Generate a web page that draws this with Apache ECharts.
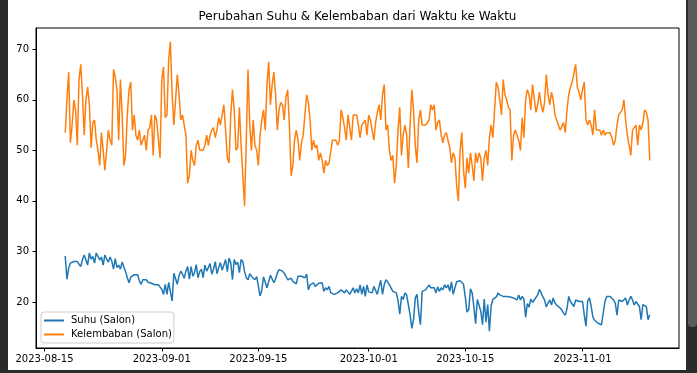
<!DOCTYPE html>
<html>
<head>
<meta charset="utf-8">
<script src="https://cdn.jsdelivr.net/npm/echarts@6/dist/echarts.min.js"></script>
<style>
  html, body { margin: 0; padding: 0; width: 697px; height: 373px; background: #2b2b2b; overflow: hidden; }
  #chart { position: absolute; left: 8px; top: 0; width: 678px; height: 370px; background: #ffffff; }
  #sb { position: absolute; left: 688px; top: 0; width: 9px; height: 327px; background: #5b5b5b; border-radius: 0 0 4px 4px; }
</style>
</head>
<body>
<div id="chart"></div>
<div id="sb"></div>
<script>
const titleText = 'Perubahan Suhu & Kelembaban dari Waktu ke Waktu';
const seriesNames = ['Suhu (Salon)', 'Kelembaban (Salon)'];
// sampling: every 6 hours starting 2023-08-18 00:00
const startDate = [2023, 7, 18];
const stepHours = 6;
const xTickDates = ['2023-08-15', '2023-09-01', '2023-09-15', '2023-10-01', '2023-10-15', '2023-11-01'];
const yTickValues = [20, 30, 40, 50, 60, 70];

const suhu = [
29.1,24.5,26.7,27.7,27.8,28,28.2,28,27.5,27,28.4,29.3,29.3,27.3,29.7,28.5,29,27.7,29.7,29.5,
28.3,28.9,27.3,29.3,28.5,27.9,28.9,28.1,26.5,28.6,26.8,27.3,26.5,27.9,27.7,26,24.8,23.8,24.9,24.9,
25.4,25.4,25.4,24.2,23.5,24.4,24.1,24.4,23.9,23.9,23.7,23.6,23.4,23.1,23.4,23.3,22.5,21.5,23.5,21.5,
23.9,22,20.2,25.7,25.5,23.5,25.2,26.1,25.5,24.7,26.1,27,24.5,27,25.1,25.8,27.4,24.8,26,26.5,
24.8,27.3,26.1,26.8,27.6,25.5,26.5,28,25.6,26.8,27.8,26.3,27.3,28.4,26,28.7,27.7,24.4,28.4,27.4,
27.9,25.8,28.4,28,26,24.8,24.4,25.6,25.1,25.1,24.4,25,23.2,21.2,22.3,25,25,22.8,22.8,25.3,
25,23.8,24.6,25.7,26.4,26.1,26.1,25.7,25.1,24.4,24.4,24.7,24.1,24.1,23.6,25.1,25.4,25.1,24.8,24.8,
25.5,22.4,23.4,23.2,23.8,23.1,23.4,23.7,23.5,23.8,22.1,22.8,22.4,23.1,21.8,21.8,21.5,21.8,21.8,22.1,
22.4,22.1,21.8,22.4,22.1,21.5,21.8,22.8,21.8,22.6,21.8,23.4,21.5,23.1,21.1,23.4,22,21.8,21.8,23.1,
22.8,21.5,23,24.3,21.5,23.4,24.4,24,23.4,23.1,22.1,22.4,21.8,20.3,17.6,21.1,20.5,21.8,21.4,21.1,
17.5,14.8,16.5,20.8,21.5,18,15.5,22.1,21.8,22.4,22.1,23.4,22.8,22.6,22.8,21.8,23,22.1,22.8,22.4,
23.4,22.8,23.4,22.1,24,21.5,22.8,24,24.1,24.2,24,23.5,21,18,18.5,22.6,21.8,19,15.7,20.5,
20.5,18.2,15.5,20.6,16,19.5,14.2,19.2,20.5,20.5,21,21.8,21.4,21.1,21.1,21,21.1,20.8,21,20.8,
20.8,21,20.4,21.4,20.4,21.1,20.6,17,19.7,19,20.6,19.9,20.4,20.4,21.4,22.5,21.8,21,20.4,19,
19.8,20.4,19.4,20.8,19.8,19.4,19.1,18.8,18.4,17.8,17.4,18.7,21.1,20.1,20.4,19.1,20.4,20.4,20.1,19.8,
20.1,17.5,15.2,20.2,20.8,19.2,17,16.4,16.1,15.8,15.5,15.5,15.5,20.1,21.1,21.1,21.1,20.8,20.4,19.8,
17.4,20.4,20.1,20.1,20.4,20.8,19.4,20.4,21.1,20.4,19.4,20.1,19.8,19.1,16.5,19.5,19.8,19.1,16.5,17.5
];

const kelembaban = [
53.5,60,65.5,51.5,55,60,58,51,64,67,61,53,60,62.5,59,50.5,55.5,56,52,50,
47,53.5,50,46,50,54,52,51,66,64.5,62,52,64,57,47,49,57,62,63.5,54,
57,53,52,54,51,52,53,50,54,54.5,57,49,57,56,56,48.5,64,66.5,56.5,57,
68,71.5,61,55,60,65,61,56,57,57,53,43.5,45,50,48,47,51,52,50,50,
50,51,53,51,53,54,54.5,52.5,54,56.5,55,57,59,54,48.5,47.5,57,62,58,50,
50.5,58.5,51,45,39,52,66,55,50,56,51,50,47,53,56,58,54,63,67.5,59,
63,65.5,61,54,58,59.5,59,56,60.5,62,55,45,47,52,54,52,48,51.5,53,53,
61,59.5,56,50,52,50.5,51,48,49.5,48,45.5,48,47,47.5,47.5,52,52,52,51,52,
58,56.5,54.5,52,57,57,52,57,57,57,55,52.5,55,55.5,56,53,57,56,54,52,
55.5,57.5,59,56,61,63,54,55,50,48,49,43.5,47,54,58.5,49,53,55,53,46.5,
55,62,58,51,47.5,56,58,55,55,55,55,56,59,58,59,54,55.5,56,53,51.5,
53,53.5,52,50.5,47.5,49.5,48.5,43,40,50,53.5,46,42.5,48.5,45.5,49.5,47,44,49.5,47.5,
49.5,48.5,44,48.5,50,47,52.5,55,52.5,58,63.5,62.5,60,57,64,61,60,58.5,58,48,
53,54,53,52,50,56.5,52.5,60,62,61,58,63,63,57.5,59,61.5,59,57.5,59.5,65,
61,59,61.5,60,57,57,55,54,54,55.5,53.5,58,61,62.5,63.5,63.5,67,62.5,61.5,60,
62,63.5,56,55,56,55,53,58,54,54,54,53,54,53,53.5,53.5,53.5,52.5,51,52,
55,57,57.5,58,60,56,53,53,49,54,54,55,51,55,54,55.5,58,57.5,56,48
];

function localTs(y, m, d, h) { return new Date(y, m, d, h || 0, 0, 0).getTime(); }
function parseDay(s) { const p = s.split('-').map(Number); return localTs(p[0], p[1] - 1, p[2]); }
const t0 = localTs(startDate[0], startDate[1], startDate[2]);
const stepMs = stepHours * 3600 * 1000;
const times = suhu.map((_, i) => t0 + i * stepMs);
const span = times[times.length - 1] - times[0];
const xMin = times[0] - span * 0.05;
const xMax = times[times.length - 1] + span * 0.05;
const xTicks = xTickDates.map(parseDay);

function fmtDate(v) {
  const d = new Date(v);
  const mm = String(d.getMonth() + 1).padStart(2, '0');
  const dd = String(d.getDate()).padStart(2, '0');
  return d.getFullYear() + '-' + mm + '-' + dd;
}

const chart = echarts.init(document.getElementById('chart'), null, { renderer: 'canvas' });
const font = 'DejaVu Sans';
chart.setOption({
  animation: false,
  backgroundColor: '#ffffff',
  title: {
    text: titleText,
    left: 349.5,
    textAlign: 'center',
    top: 11,
    padding: 0,
    textStyle: { fontFamily: font, fontSize: 12, fontWeight: 'normal', color: '#000' }
  },
  legend: {
    orient: 'vertical',
    left: 33,
    top: 312,
    padding: [3, 2, 3, 3],
    itemGap: 3,
    itemWidth: 20,
    itemHeight: 2,
    icon: 'rect',
    backgroundColor: 'rgba(255,255,255,0.8)',
    borderColor: '#cccccc',
    borderWidth: 1,
    borderRadius: 3,
    textStyle: { fontFamily: font, fontSize: 10, color: '#000', lineHeight: 11, padding: [0, 0, 0, 2] },
    data: seriesNames
  },
  grid: {
    left: 28, right: 7, top: 28, bottom: 22,
    show: true, borderColor: '#000', borderWidth: 1, backgroundColor: 'transparent',
    containLabel: false
  },
  xAxis: {
    type: 'value',
    min: xMin,
    max: xMax,
    splitLine: { show: false },
    axisLine: { show: true, onZero: false, lineStyle: { color: '#000', width: 1 } },
    axisTick: { show: true, length: 3.5, lineStyle: { color: '#000' }, customValues: xTicks },
    axisLabel: {
      customValues: xTicks,
      formatter: fmtDate,
      fontFamily: font, fontSize: 10, color: '#000', margin: 6, hideOverlap: false
    }
  },
  yAxis: {
    type: 'value',
    min: 10.9,
    max: 74.2,
    splitLine: { show: false },
    axisLine: { show: true, onZero: false, lineStyle: { color: '#000', width: 1 } },
    axisTick: { show: true, length: 3.5, lineStyle: { color: '#000' }, customValues: yTickValues },
    axisLabel: { customValues: yTickValues, fontFamily: font, fontSize: 10, color: '#000', margin: 7 }
  },
  series: [
    {
      name: seriesNames[0], type: 'line', showSymbol: false, symbol: 'none',
      data: times.map((t, i) => [t, suhu[i]]),
      lineStyle: { color: '#1f77b4', width: 1.5 }, itemStyle: { color: '#1f77b4' }
    },
    {
      name: seriesNames[1], type: 'line', showSymbol: false, symbol: 'none',
      data: times.map((t, i) => [t, kelembaban[i]]),
      lineStyle: { color: '#ff7f0e', width: 1.5 }, itemStyle: { color: '#ff7f0e' }
    }
  ]
});
</script>
</body>
</html>
